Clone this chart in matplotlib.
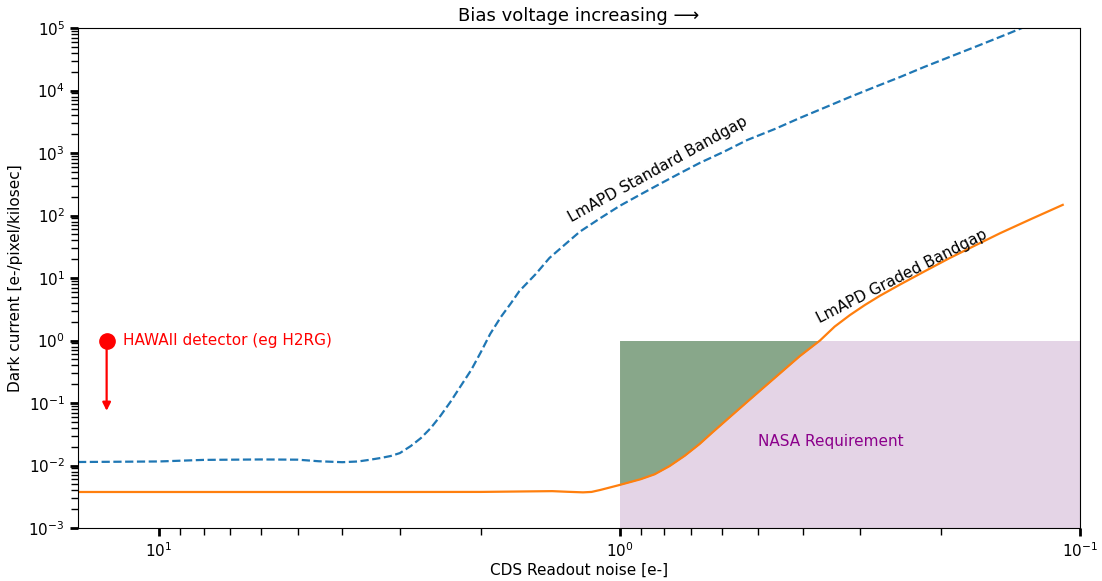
import numpy as np
import matplotlib
matplotlib.use("Agg")
import matplotlib.pyplot as plt

# (x = CDS noise [e-], y = dark current [e-/pix/ks])
std_noise = [15, 12, 10, 8, 6, 5, 4.5, 4, 3.7, 3.5, 3.3, 3.14, 3.0, 2.84, 2.7,
             2.57, 2.45, 2.33, 2.22, 2.10, 2.0, 1.91, 1.81, 1.72, 1.65, 1.52,
             1.42, 1.31, 1.22, 1.10, 1.0, 0.905, 0.818, 0.741, 0.67, 0.592,
             0.528, 0.46, 0.406, 0.358, 0.316, 0.279, 0.246, 0.218, 0.192,
             0.166, 0.142, 0.132]
std_dark = [0.01138, 0.0115, 0.01161, 0.0123, 0.0125, 0.0124, 0.0117, 0.0113,
            0.0116, 0.0123, 0.0132, 0.0142, 0.0158, 0.0205, 0.0275, 0.0398,
            0.062, 0.104, 0.180, 0.337, 0.655, 1.27, 2.38, 3.98, 6.19, 11.6,
            20.9, 35, 55, 91, 142, 213, 319, 470, 692, 1057, 1614, 2421, 3630,
            5346, 7870, 11376, 16400, 23770, 34400, 52480, 83200, 104000]

graded_noise = [15, 10, 5, 3, 2, 1.6, 1.4, 1.3, 1.2, 1.15, 1.1, 1.0, 0.9, 0.839,
                0.779, 0.722, 0.67, 0.628, 0.577, 0.530, 0.489, 0.449, 0.406,
                0.367, 0.341, 0.316, 0.293, 0.272, 0.246, 0.217, 0.192, 0.169,
                0.149, 0.128, 0.109]
graded_dark = [0.00377, 0.00377, 0.00377, 0.00377, 0.00378, 0.00385, 0.00389,
               0.0038, 0.00372, 0.00378, 0.00407, 0.00488, 0.00603, 0.00724,
               0.00977, 0.0143, 0.0221, 0.034, 0.0589, 0.102, 0.171, 0.295,
               0.562, 1.0, 1.67, 2.55, 3.71, 5.19, 7.85, 12.9, 20.8, 33.1, 52.2,
               87.1, 148]

req_noise = [1.0, 0.1]
req_dark = [1e-3, 1.0]

hawaii_noise = 13
hawaii_dark = 1.0
hawaii_limit = 0.075

fig = plt.figure(figsize=(11.02, 5.81), dpi=100)
ax = fig.add_axes([0.0708, 0.0912, 0.9092, 0.8606])

ax.set_xscale("log")
ax.set_yscale("log")

# NASA requirement box
ax.fill_between(req_noise, req_dark[0], req_dark[1], color="#e4d4e6", lw=0)

gx = np.array(graded_noise)
gy = np.array(graded_dark)
sel = (gx <= req_noise[0]) & (gy <= req_dark[1])
ax.fill_between(gx[sel], gy[sel], req_dark[1], color="darkgreen", alpha=0.4, lw=0)

ax.plot(std_noise, std_dark, "--", color="tab:blue", lw=1.6)
ax.plot(graded_noise, graded_dark, "-", color="tab:orange", lw=1.6)

# HAWAII point
ax.plot(hawaii_noise, hawaii_dark, "o", color="red", ms=11)
ax.annotate("", xy=(hawaii_noise, hawaii_limit), xytext=(hawaii_noise, hawaii_dark),
            arrowprops=dict(arrowstyle="-|>", color="red", lw=1.6, mutation_scale=12,
                            shrinkA=0, shrinkB=0))
ax.text(12, 1.0, "HAWAII detector (eg H2RG)", color="red", fontsize=11,
        ha="left", va="center")

ax.text(0.826, 540, "LmAPD Standard Bandgap", rotation=29, fontsize=11,
        ha="center", va="center")
ax.text(0.244, 10.8, "LmAPD Graded Bandgap", rotation=27, fontsize=11,
        ha="center", va="center")
ax.text(0.5, 0.0238, "NASA Requirement", color="darkmagenta", fontsize=11,
        ha="left", va="center")

ax.set_xlim(15, 0.1)
ax.set_ylim(1e-3, 1e5)

ax.set_xlabel("CDS Readout noise [e-]", fontsize=11, labelpad=2)
ax.set_ylabel("Dark current [e-/pixel/kilosec]", fontsize=11)
ax.set_title("Bias voltage increasing \u27f6", fontsize=13, pad=5)

ax.tick_params(which="major", length=6, width=2, labelsize=11)
ax.tick_params(which="minor", length=5, width=1)
ax.yaxis.set_minor_locator(matplotlib.ticker.LogLocator(base=10, subs=np.arange(2, 10), numticks=20))

fig.savefig("out.png", dpi=100)
